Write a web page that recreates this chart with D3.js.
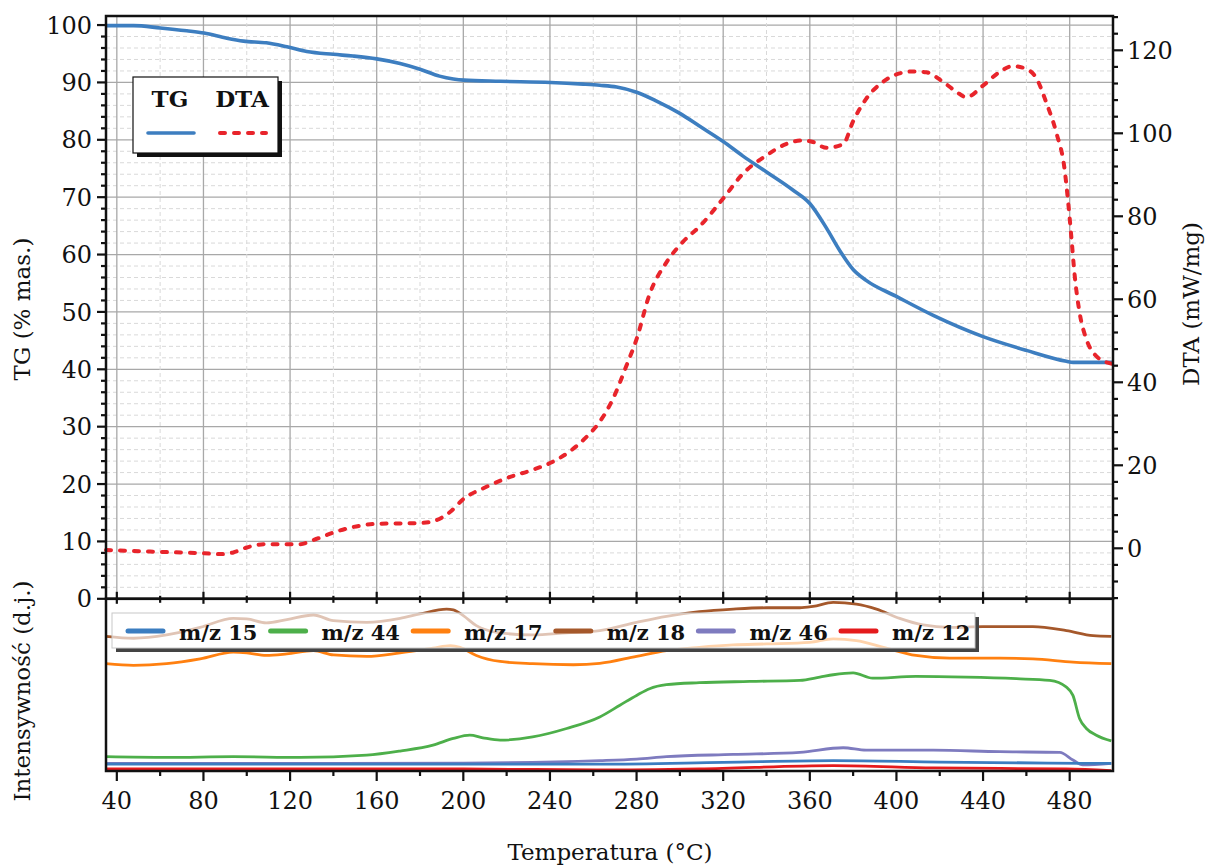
<!DOCTYPE html>
<html><head><meta charset="utf-8">
<script src="https://cdn.jsdelivr.net/npm/d3@7"></script>
<style>body{margin:0;background:#fff}svg{display:block}text{font-family:"DejaVu Serif",serif;fill:#111}</style>
</head><body><svg id="c" width="1210" height="867"></svg>
<script>
// ---- data ----
const tgTemp = [35,47.7,60,72.3,80.3,90.8,98.5,109,118.5,127.7,140,149,160,170.8,180,189,195.4,200.3,217,240.3,255.4,263,270.8,280,289,300,309,320,329,340,352,360,367.7,373.8,380,386,400,417,440,460,478.5,481.5,500];
const tgValues = [99.9,99.9,99.5,99.0,98.6,97.7,97.2,96.9,96.2,95.4,94.9,94.6,94.1,93.3,92.3,91.1,90.6,90.4,90.2,90.0,89.7,89.5,89.2,88.3,86.8,84.6,82.4,79.7,77.2,74.4,71.3,68.9,64.6,60.7,57.4,55.5,52.7,49.4,45.7,43.3,41.4,41.2,41.2];
const dtaTemp = [35,55.4,80.3,87.7,93.8,100,109,124.6,130.8,143,160,180,186,194,200.3,209,220,232,240.3,249,257,263,269,275.4,280,286,293.8,301.5,309,320,329,340,349,357,361.5,367.7,375.4,380,386,393.8,400,407.7,413.8,421.5,427.7,432.3,440,447.7,453.8,460,464.6,469.2,473.8,477.7,479.2,480.8,482.3,484.6,487.7,492.3,499.2];
const dtaValues = [-0.4,-0.8,-1.2,-1.4,-1.0,0.2,1.0,1.0,2.0,4.3,5.9,6.1,6.5,8.8,12.0,14.4,16.9,18.9,20.6,23.3,26.9,30.5,35.9,44.1,50.4,61.2,68.9,73.9,77.5,84.3,90.2,94.7,97.4,98.3,97.9,96.5,97.4,102.9,108.3,112.4,114.2,114.9,114.7,112.4,110,108.7,111.5,114.8,116.2,115.5,113.3,107.4,100.2,91.1,83.9,74.8,65.8,56.7,50.4,46.3,44.5];

const mz18Temp = [35,47.7,63,78.5,93.8,100,109,118.5,130.8,140,155.4,170.8,180,192.3,195.4,200,206,217,232,247.7,263,280,293.8,309,324.6,340,355.4,361.5,370.8,381.5,390.8,401.5,412.3,424.6,440,463,478.5,490.8,499.2];
const mz18Values = [78.2,77.1,79,83.4,88.6,88.3,86,87.9,90.6,87.3,86.3,88.6,91.2,94,93.6,90.2,84.4,80.2,79,80.2,81.5,86.3,89.8,92.5,94,94.8,94.8,95.6,97.9,96.9,94,88.6,84.8,83.4,83.8,83.8,81.5,78.6,78.2];
const mz17Temp = [35,47.7,63,78.5,93.8,100,109,118.5,130.8,140,155.4,170.8,186,194,198.5,206,217,232,250.8,263,280,293.8,309,324.6,340,360,370.8,381.5,394,409,424.6,447.7,463,481.5,499.2];
const mz17Values = [62.3,61.3,62.3,65.1,69,68.6,67.1,68,69.9,67.4,66.6,68.6,71.3,72.8,71.8,67.1,63.6,62.3,61.7,62.5,66.6,69.9,71.8,73.2,73.8,74.7,76.7,75.7,71.8,67.1,65.5,65.5,65.1,63.2,62.3];
const mz44Temp = [35,63,93.8,124.6,155.4,170.8,186,195.4,203,209,217,232,247.7,263,272.3,280,286,293.8,309,332.3,355.4,364.6,370.8,380,389,409,432.3,455.4,470.8,478.5,481.5,484.6,487.7,492.3,499.2];
const mz44Values = [8.3,7.9,8.3,7.9,9.2,11.6,15,18.9,20.8,19.3,17.9,19.8,24.7,31.4,38.2,43.9,47.8,50.1,51.3,52,52.6,54.5,55.9,57,53.9,54.9,54.5,53.6,52.6,48.7,43.9,30.3,24.7,20.8,17.5];
const mz46Temp = [35,100,200,263,280,293.8,324.6,355.4,375.4,386,417,447.7,475.4,481.5,486,499.2];
const mz46Values = [4.4,4.4,4.6,6,6.9,8.3,9.6,10.8,13.5,12.1,12.1,11.2,10.8,6.4,3.5,4.4];
const mz15Temp = [35,200,263,320,370.8,420,470,499.2];
const mz15Values = [4.0,4.0,4.0,5.0,6.0,5.2,4.6,4.4];
const mz12Temp = [35,200,263,309,370.8,417,478.5,499.2];
const mz12Values = [1.2,1.2,0.6,1.2,3.1,1.8,1.2,0.2];

const msLabels = ["m/z 15","m/z 44","m/z 17","m/z 18","m/z 46","m/z 12"];
const msColors = ["#3b7dc0","#4daf4a","#ff8010","#a5582b","#7e7bbf","#e41a1c"];
const xTicks = [40,80,120,160,200,240,280,320,360,400,440,480];
const tgTicks = [0,10,20,30,40,50,60,70,80,90,100];
const dtaTicks = [0,20,40,60,80,100,120];

// ---- layout ----
const L = 106, R = 1113, T0 = 16, MID = 598.8, B = 771;
const svg = d3.select("#c");
const x = d3.scaleLinear().domain([35,500]).range([L,R]);
const yTG = d3.scaleLinear().domain([0,100]).range([MID,25.05]);
const yDTA = d3.scaleLinear().domain([0,120]).range([548.3,50.3]);
const yMS = d3.scaleLinear().domain([0,100]).range([B,MID]);

// grid (top panel)
const g = svg.append("g");
d3.range(0,101.7,2).forEach(v=>{
  const major = v%10===0;
  g.append("line").attr("x1",L).attr("x2",R).attr("y1",yTG(v)).attr("y2",yTG(v))
   .attr("stroke",major?"#a8a8a8":"#d9d9d9").attr("stroke-width",major?1.3:1)
   .attr("stroke-dasharray",major?null:"4,3");
});
d3.range(40,500,20).forEach(v=>{
  const major = v%40===0;
  g.append("line").attr("y1",T0).attr("y2",MID).attr("x1",x(v)).attr("x2",x(v))
   .attr("stroke",major?"#a8a8a8":"#d9d9d9").attr("stroke-width",major?1.3:1)
   .attr("stroke-dasharray",major?null:"4,3");
});

// curves top
const lineTG = d3.line().x((d,i)=>x(tgTemp[i])).y(d=>yTG(d)).curve(d3.curveMonotoneX);
const lineDTA = d3.line().x((d,i)=>x(dtaTemp[i])).y(d=>yDTA(d)).curve(d3.curveMonotoneX);
svg.append("path").attr("d",lineTG(tgValues)).attr("fill","none").attr("stroke","#3d7ec0").attr("stroke-width",3.6);
svg.append("path").attr("d",lineDTA(dtaValues)).attr("fill","none").attr("stroke","#e8242b").attr("stroke-width",4)
   .attr("stroke-dasharray","5,9").attr("stroke-linecap","round");

// bottom series
const msSeries = [[mz15Temp,mz15Values],[mz44Temp,mz44Values],[mz17Temp,mz17Values],[mz18Temp,mz18Values],[mz46Temp,mz46Values],[mz12Temp,mz12Values]];
const drawOrder = [3,2,1,4,0,5];
drawOrder.forEach(k=>{
  const [tt,vv] = msSeries[k];
  const ln = d3.line().x((d,i)=>x(tt[i])).y(d=>yMS(d)).curve(d3.curveMonotoneX);
  svg.append("path").attr("d",ln(vv)).attr("fill","none").attr("stroke",msColors[k]).attr("stroke-width",2.8);
});

// frames
svg.append("rect").attr("x",L).attr("y",T0).attr("width",R-L).attr("height",MID-T0).attr("fill","none").attr("stroke","#111").attr("stroke-width",2.5);
svg.append("rect").attr("x",L).attr("y",MID).attr("width",R-L).attr("height",B-MID).attr("fill","none").attr("stroke","#111").attr("stroke-width",2.5);

// left TG axis
const axL = svg.append("g");
d3.range(0,101.7,2).forEach(v=>{
  const major = v%10===0;
  axL.append("line").attr("x1",L).attr("x2",L-(major?9:5)).attr("y1",yTG(v)).attr("y2",yTG(v)).attr("stroke","#111").attr("stroke-width",2.2);
});
tgTicks.forEach(v=>{
  axL.append("text").attr("x",92).attr("y",yTG(v)).attr("dy","0.36em").attr("text-anchor","end").attr("font-size",24).text(v);
});
// right DTA axis
const axR = svg.append("g");
d3.range(-12,128.1,4).forEach(v=>{
  const major = v%20===0;
  axR.append("line").attr("x1",R).attr("x2",R+(major?10:5)).attr("y1",yDTA(v)).attr("y2",yDTA(v)).attr("stroke","#111").attr("stroke-width",2.2);
});
dtaTicks.forEach(v=>{
  axR.append("text").attr("x",1127).attr("y",yDTA(v)).attr("dy","0.36em").attr("text-anchor","start").attr("font-size",24).text(v);
});
// x ticks (middle crossing, bottom outward)
const axB = svg.append("g");
d3.range(40,500,20).forEach(v=>{
  const major = v%40===0;
  axB.append("line").attr("x1",x(v)).attr("x2",x(v)).attr("y1",MID-(major?7:3)).attr("y2",MID+(major?5:4)).attr("stroke","#111").attr("stroke-width",2.2);
  axB.append("line").attr("x1",x(v)).attr("x2",x(v)).attr("y1",B).attr("y2",B+(major?10:5)).attr("stroke","#111").attr("stroke-width",2.2);
});
xTicks.forEach(v=>{
  axB.append("text").attr("x",x(v)).attr("y",809).attr("text-anchor","middle").attr("font-size",24).text(v);
});

// axis titles
svg.append("text").attr("transform","translate(22,309) rotate(-90)").attr("text-anchor","middle").attr("dominant-baseline","central").attr("font-size",23).text("TG (% mas.)");
svg.append("text").attr("transform","translate(1191,304) rotate(-90)").attr("text-anchor","middle").attr("dominant-baseline","central").attr("font-size",23).text("DTA (mW/mg)");
svg.append("text").attr("transform","translate(22,691) rotate(-90)").attr("text-anchor","middle").attr("dominant-baseline","central").attr("font-size",23).text("Intensywność (d.j.)");
svg.append("text").attr("x",610).attr("y",860).attr("text-anchor","middle").attr("font-size",23).text("Temperatura (°C)");

// main legend
const lg = svg.append("g");
lg.append("rect").attr("x",137).attr("y",81).attr("width",145).attr("height",76).attr("fill","#111");
lg.append("rect").attr("x",133).attr("y",77).attr("width",145).attr("height",76).attr("fill","#fff").attr("stroke","#111").attr("stroke-width",1.2);
lg.append("text").attr("x",170).attr("y",107).attr("text-anchor","middle").attr("font-size",23).attr("font-weight","bold").text("TG");
lg.append("text").attr("x",242).attr("y",107).attr("text-anchor","middle").attr("font-size",23).attr("font-weight","bold").text("DTA");
lg.append("line").attr("x1",148).attr("x2",194).attr("y1",133).attr("y2",133).attr("stroke","#3d7ec0").attr("stroke-width",3.6).attr("stroke-linecap","round");
lg.append("line").attr("x1",220).attr("x2",266).attr("y1",133).attr("y2",133).attr("stroke","#e8242b").attr("stroke-width",4).attr("stroke-dasharray","5,9").attr("stroke-linecap","round");

// ms legend
const mg = svg.append("g");
const lx=112, ly=613, lw=863, lh=35;
mg.append("path").attr("d",`M${lx+4},${ly+lh} H${lx+lw} V${ly+4} H${lx+lw+4} V${ly+lh+4} H${lx+4} Z`).attr("fill","#444");
mg.append("rect").attr("x",lx).attr("y",ly).attr("width",lw).attr("height",lh).attr("fill","#fff").attr("fill-opacity",0.65).attr("stroke","#c8c8c8").attr("stroke-width",1);
msLabels.forEach((lab,i)=>{
  const sx = 128 + i*142.6;
  mg.append("line").attr("x1",sx).attr("x2",sx+35).attr("y1",631).attr("y2",631).attr("stroke",msColors[i]).attr("stroke-width",5).attr("stroke-linecap","round");
  mg.append("text").attr("x",sx+51).attr("y",640).attr("font-size",21).attr("font-weight","bold").text(lab);
});
</script></body></html>
